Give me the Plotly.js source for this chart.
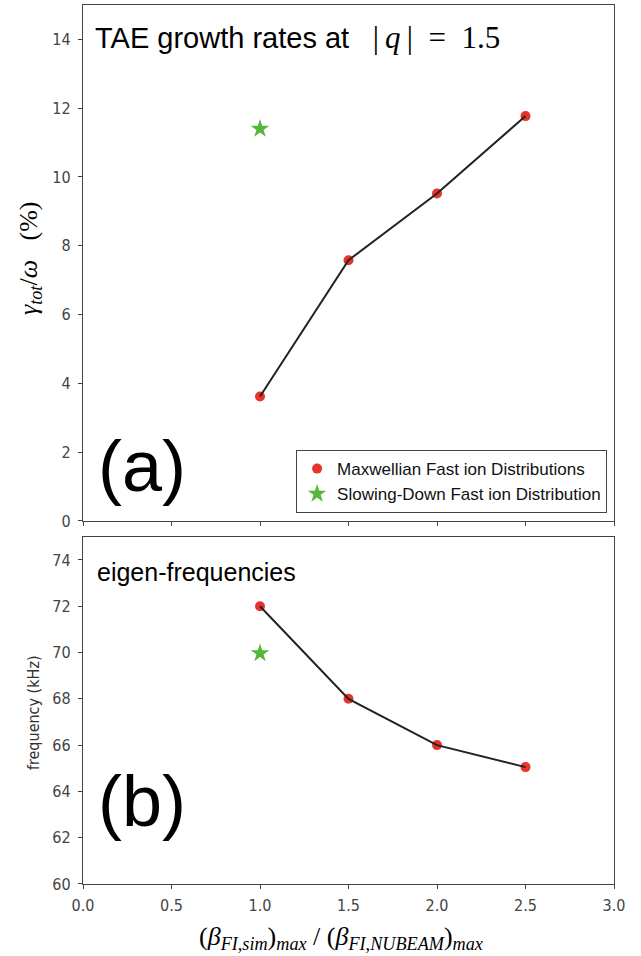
<!DOCTYPE html>
<html>
<head>
<meta charset="utf-8">
<script src="https://cdn.plot.ly/plotly-3.0.1.min.js"></script>
<style>body{margin:0;padding:0;background:#fff}#chart{width:641px;height:956px}</style>
</head>
<body>
<div id="chart"></div>
<script>
const betaRatio = [1.0, 1.5, 2.0, 2.5];
const growthMaxwellian = [3.62, 7.58, 9.52, 11.77];
const starRatio = [1.0];
const growthSlowingDown = [11.4];
const freqMaxwellian = [72.0, 68.0, 66.0, 65.05];
const freqSlowingDown = [69.97];
const yTicksTop = [0, 2, 4, 6, 8, 10, 12, 14];
const yTicksBottom = [60, 62, 64, 66, 68, 70, 72, 74];
const xTicks = [0.0, 0.5, 1.0, 1.5, 2.0, 2.5, 3.0];
const xTickLabels = ['0.0', '0.5', '1.0', '1.5', '2.0', '2.5', '3.0'];

const red = '#e8332a';
const green = '#56b63a';
const lineCol = '#222222';

const traces = [
  {x: betaRatio, y: growthMaxwellian, xaxis: 'x', yaxis: 'y', mode: 'markers', type: 'scatter',
   marker: {color: red, size: 10, symbol: 'circle'}, name: 'Maxwellian Fast ion Distributions', showlegend: true},
  {x: starRatio, y: growthSlowingDown, xaxis: 'x', yaxis: 'y', mode: 'markers', type: 'scatter',
   marker: {color: green, size: 14, symbol: 'star'}, name: 'Slowing-Down Fast ion Distribution', showlegend: true},
  {x: betaRatio, y: growthMaxwellian, xaxis: 'x', yaxis: 'y', mode: 'lines', type: 'scatter',
   line: {color: lineCol, width: 2}, showlegend: false, hoverinfo: 'skip'},
  {x: betaRatio, y: freqMaxwellian, xaxis: 'x2', yaxis: 'y2', mode: 'markers', type: 'scatter',
   marker: {color: red, size: 10, symbol: 'circle'}, showlegend: false},
  {x: starRatio, y: freqSlowingDown, xaxis: 'x2', yaxis: 'y2', mode: 'markers', type: 'scatter',
   marker: {color: green, size: 14, symbol: 'star'}, showlegend: false},
  {x: betaRatio, y: freqMaxwellian, xaxis: 'x2', yaxis: 'y2', mode: 'lines', type: 'scatter',
   line: {color: lineCol, width: 2}, showlegend: false, hoverinfo: 'skip'}
];

const tickFont = {family: 'DejaVu Sans Condensed, DejaVu Sans, sans-serif', size: 16, color: '#444'};
const axisCommon = {showline: true, mirror: true, linecolor: '#444', linewidth: 1.2,
  ticks: 'outside', ticklen: 4, tickcolor: '#444', showgrid: false, zeroline: false, tickfont: tickFont};

const layout = {
  width: 641, height: 956,
  margin: {l: 83, r: 27, t: 5, b: 72},
  paper_bgcolor: '#fff', plot_bgcolor: '#fff',
  showlegend: true,
  legend: {x: 0.987, xanchor: 'right', y: 0.422, yanchor: 'bottom',
    bordercolor: '#444', borderwidth: 1, bgcolor: '#fff',
    font: {family: 'Liberation Sans, Arial, sans-serif', size: 17, color: '#111'},
    itemsizing: 'trace', tracegroupgap: 0, itemwidth: 30},
  xaxis: Object.assign({}, axisCommon, {domain: [0, 1], range: [0, 3], anchor: 'y',
    tickvals: xTicks, showticklabels: false}),
  yaxis: Object.assign({}, axisCommon, {domain: [0.413, 1], range: [0, 15], anchor: 'x',
    tickvals: yTicksTop, ticklabelstandoff: 4}),
  xaxis2: Object.assign({}, axisCommon, {domain: [0, 1], range: [0, 3], anchor: 'y2',
    tickvals: xTicks, ticktext: xTickLabels, ticklabelstandoff: 3}),
  yaxis2: Object.assign({}, axisCommon, {domain: [0, 0.395], range: [60, 75], anchor: 'x2',
    tickvals: yTicksBottom, ticklabelstandoff: 4}),
  annotations: [
    {xref: 'paper', yref: 'paper', x: 0.018, y: 0.9625, xanchor: 'left', yanchor: 'middle', showarrow: false,
     text: "TAE growth rates at <span style='font-family:Liberation Serif, serif;font-size:31px'>\u2002|\u2009<i>q</i>\u2009|\u2002=\u20021.5</span>",
     font: {family: 'Liberation Sans, Arial, sans-serif', size: 29, color: '#000'}},
    {xref: 'paper', yref: 'paper', x: 0.025, y: 0.475, xanchor: 'left', yanchor: 'middle', showarrow: false,
     text: '(a)', font: {family: 'Liberation Sans, Arial, sans-serif', size: 72, color: '#000'}},
    {xref: 'paper', yref: 'paper', x: 0.022, y: 0.355, xanchor: 'left', yanchor: 'middle', showarrow: false,
     text: 'eigen-frequencies', font: {family: 'Liberation Sans, Arial, sans-serif', size: 25, color: '#000'}},
    {xref: 'paper', yref: 'paper', x: 0.025, y: 0.094, xanchor: 'left', yanchor: 'middle', showarrow: false,
     text: '(b)', font: {family: 'Liberation Sans, Arial, sans-serif', size: 72, color: '#000'}},
    {xref: 'paper', yref: 'paper', x: -0.1, y: 0.712, xanchor: 'center', yanchor: 'middle', showarrow: false,
     textangle: -90,
     text: '<i>γ<sub>tot</sub></i>/<i>ω</i>   (%)',
     font: {family: 'Liberation Serif, DejaVu Serif, serif', size: 26, color: '#000'}},
    {xref: 'paper', yref: 'paper', x: -0.094, y: 0.1945, xanchor: 'center', yanchor: 'middle', showarrow: false,
     textangle: -90,
     text: 'frequency (kHz)',
     font: {family: 'DejaVu Sans Condensed, DejaVu Sans, sans-serif', size: 16, color: '#333'}},
    {xref: 'paper', yref: 'paper', x: 0.486, y: -0.0614, xanchor: 'center', yanchor: 'middle', showarrow: false,
     text: '(<i>β<sub>FI,sim</sub></i>)<sub><i>max</i></sub> / (<i>β<sub>FI,NUBEAM</sub></i>)<sub><i>max</i></sub>',
     font: {family: 'Liberation Serif, DejaVu Serif, serif', size: 26, color: '#000'}}
  ]
};

Plotly.newPlot('chart', traces, layout, {displayModeBar: false, staticPlot: true});
</script>
</body>
</html>
